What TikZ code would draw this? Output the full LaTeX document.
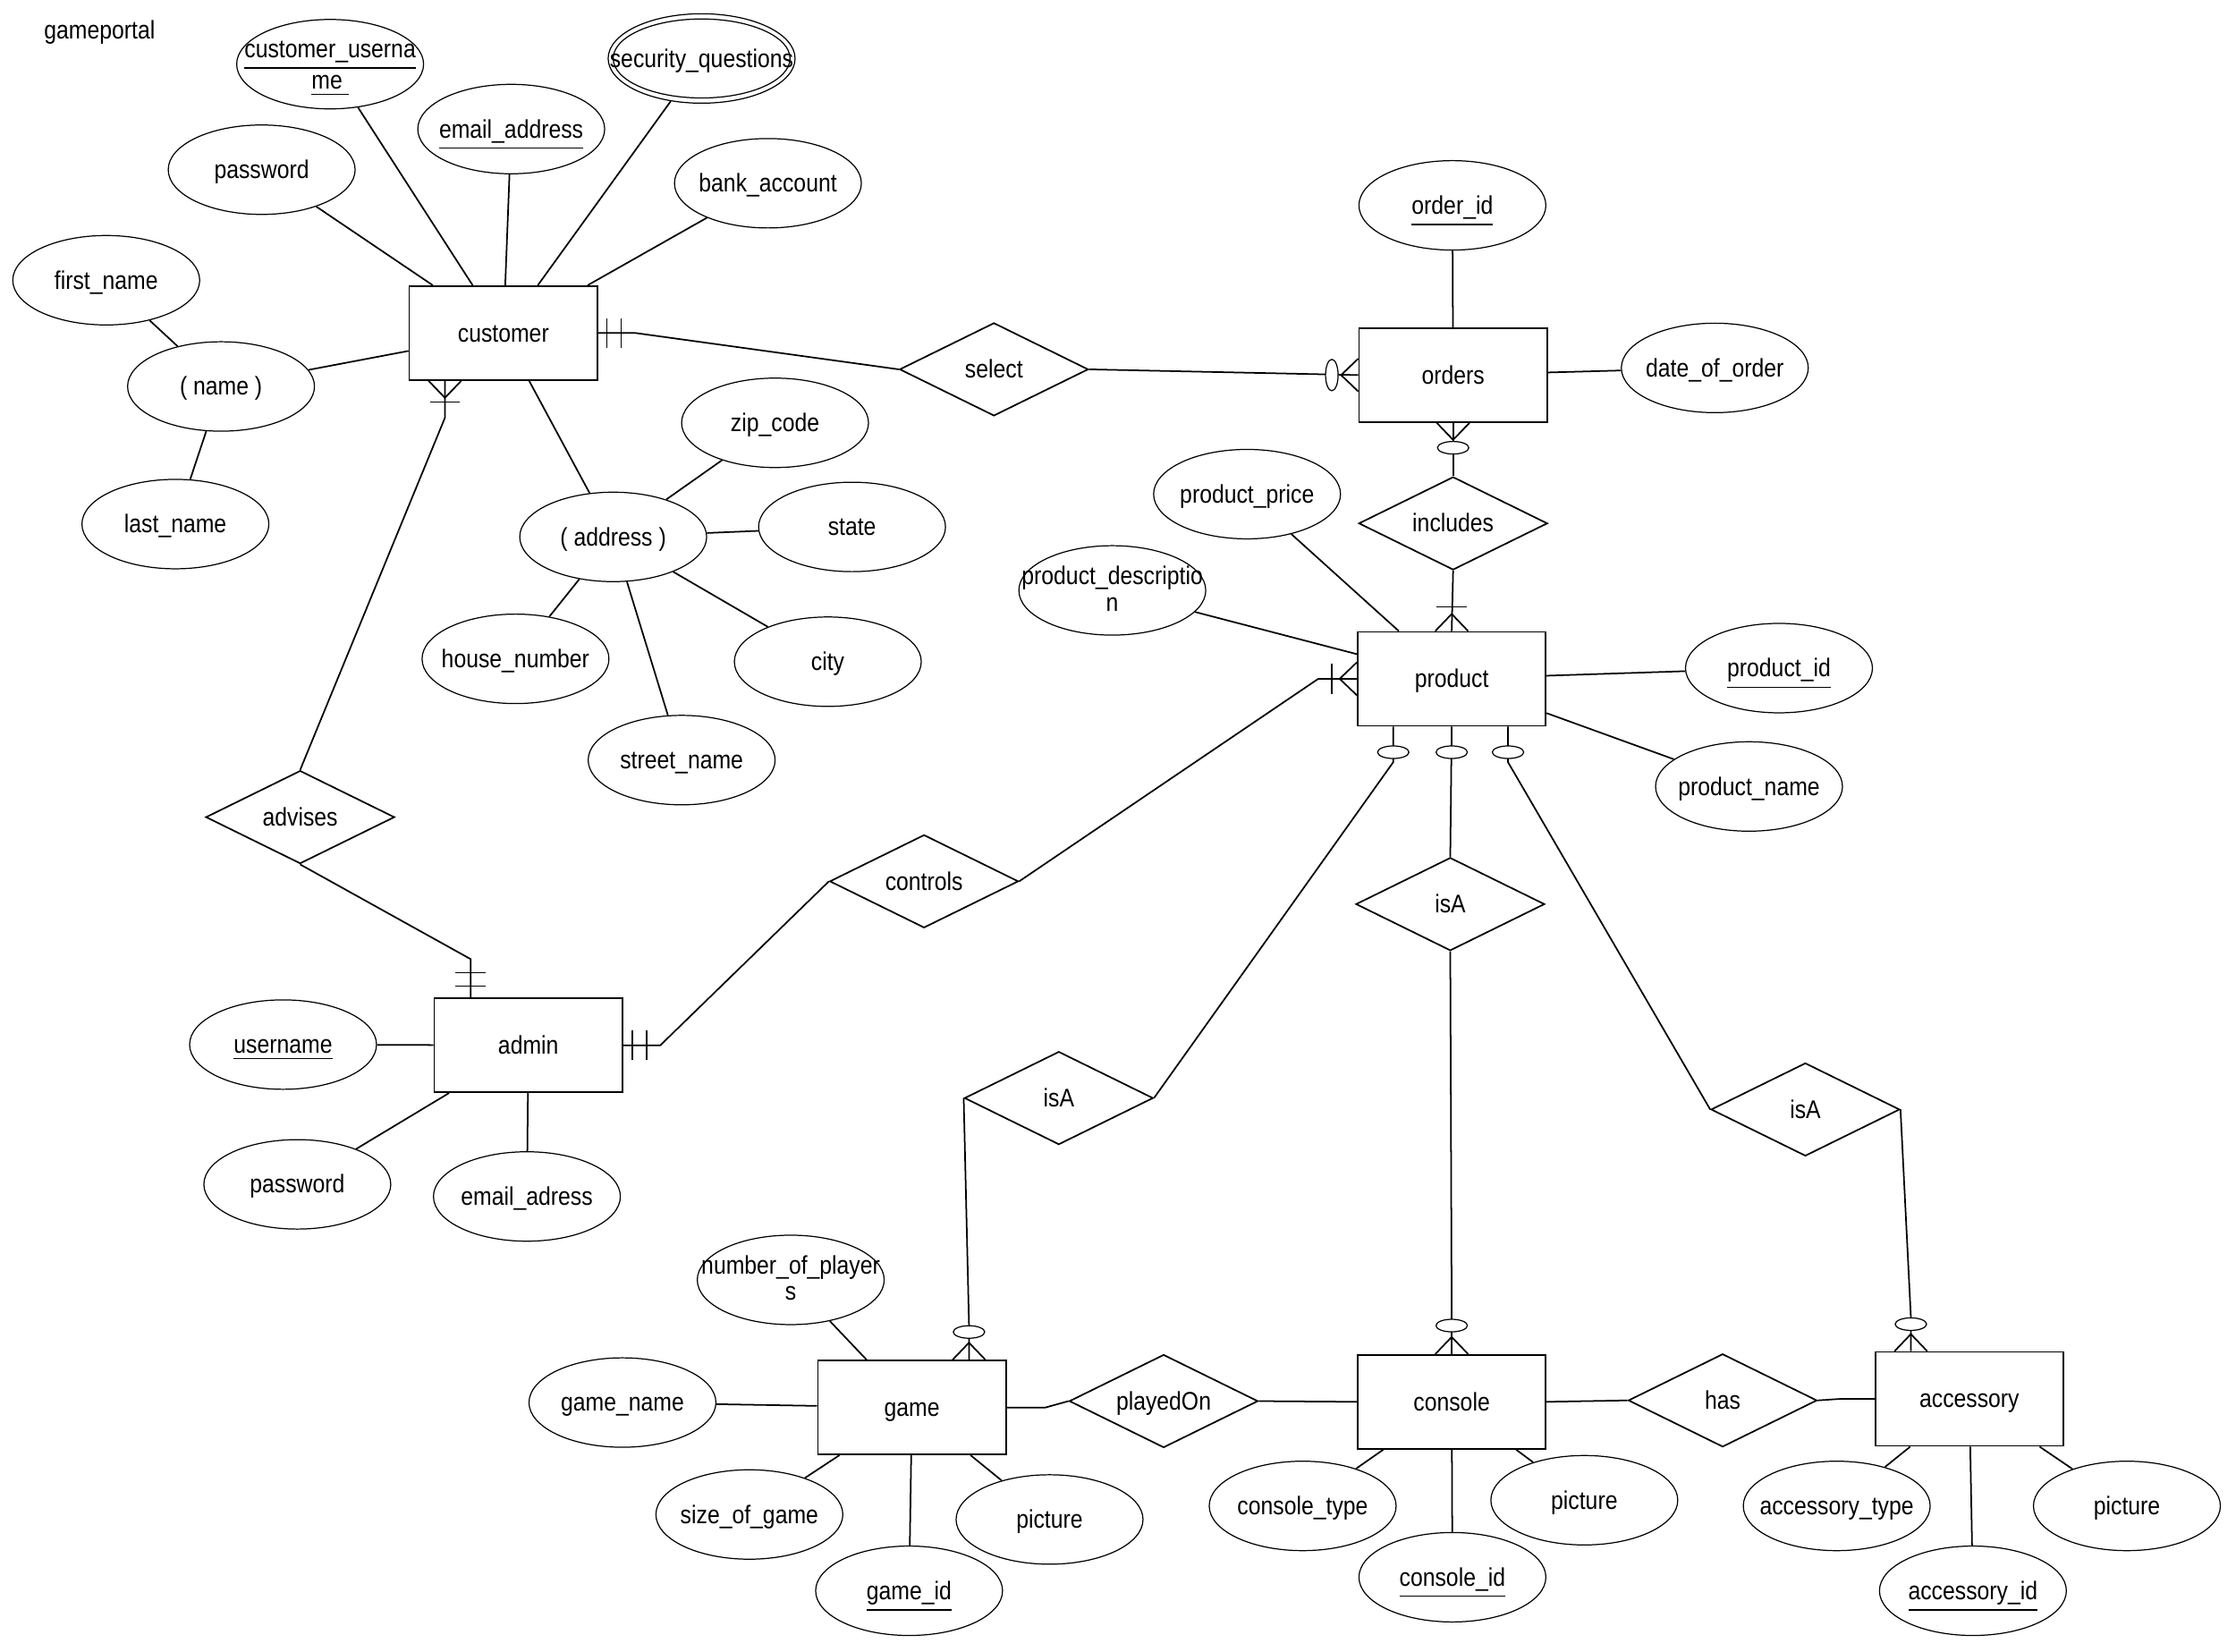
\documentclass[tikz,border=0pt]{standalone}
\usepackage{fontspec}
\usepackage{graphicx}
\setmainfont{Liberation Sans}
\usetikzlibrary{shapes.geometric,calc}
\newcommand{\T}[1]{\scalebox{1}[1.15]{#1}}
\newcommand{\mb}[1]{\makebox[0pt][c]{\smash{\raisebox{-2.8pt}{\T{#1}}}}}
\newcommand{\tl}[2]{\makebox[0pt][c]{\smash{\raisebox{1.96pt}{\begin{tabular}[t]{@{}c@{}}\T{#1}\\\T{#2}\end{tabular}}}}}
\newcommand{\crow}[2]{\begin{scope}[shift={(#1)},rotate=#2,x=0.015944cm,y=0.015944cm]\draw[conn] (0,11.5) -- (12,0) -- (0,-11.5);\end{scope}}
\newcommand{\tbar}[3]{\begin{scope}[shift={(#1)},rotate=#2,x=0.015944cm,y=0.015944cm]\draw[conn] (#3,10.5) -- (#3,-10.5);\end{scope}}
\newcommand{\toval}[3]{\begin{scope}[shift={(#1)},rotate=#2,x=0.015944cm,y=0.015944cm]\draw[line width=0.35pt,fill=white] (#3,0) ellipse [x radius=4.4, y radius=11];\end{scope}}
\tikzset{
 ent/.style={draw, line width=0.5pt, rectangle, minimum width=2.105cm, minimum height=1.05cm, inner sep=0pt, fill=white},
 rel/.style={draw, line width=0.5pt, diamond, minimum width=2.11cm, minimum height=1.04cm, inner sep=0pt, fill=white},
 attr/.style={draw, line width=0.35pt, ellipse, minimum width=2.09cm, minimum height=1.0cm, inner sep=0pt},
 conn/.style={line width=0.5pt},
}
\begin{document}
\begin{tikzpicture}[x=0.015944cm, y=-0.015944cm, font=\fontsize{7.05}{8.5}\selectfont]
\useasboundingbox (0,0) rectangle (1568,1158);
\node[inner sep=0pt] (title) at (31,21) {\makebox[0pt][l]{\smash{\raisebox{-2.8pt}{\T{gameportal}}}}};
% entities
\node[ent] (cust) at (353,233.5) {\mb{customer}};
\node[ent] (ord) at (1019,263) {\mb{orders}};
\node[ent] (prod) at (1018,476) {\mb{product}};
\node[ent] (adm) at (370.5,733) {\mb{admin}};
\node[ent] (game) at (639.5,987) {\mb{game}};
\node[ent] (cons) at (1018,983) {\mb{console}};
\node[ent] (acc) at (1381,981) {\mb{accessory}};
% relationships
\node[rel] (sel) at (697,259) {\mb{select}};
\node[rel] (inc) at (1019,367) {\mb{includes}};
\node[rel] (adv) at (210.5,573) {\mb{advises}};
\node[rel] (ctl) at (648,618) {\mb{controls}};
\node[rel] (isam) at (1017,634) {\mb{isA}};
\node[rel] (isal) at (742.5,770) {\mb{isA}};
\node[rel] (isar) at (1266,778) {\mb{isA}};
\node[rel] (play) at (816,982.5) {\mb{playedOn}};
\node[rel] (has) at (1208,982) {\mb{has}};
% attributes
\node[attr] (cu) at (231.5,45) {\tl{\underline{customer\_userna}}{\underline{me\ }}};
\node[attr] (email) at (358.5,90.5) {\mb{\underline{email\_address}}};
\node[attr] (sq) at (492,41) {\mb{security\_questions}};
\draw[line width=0.35pt] (sq.center) ellipse [x radius=62, y radius=27.7];
\node[attr] (pw) at (183.5,119) {\mb{password}};
\node[attr] (bank) at (538.5,128.5) {\mb{bank\_account}};
\node[attr] (fn) at (74.5,196.5) {\mb{first\_name}};
\node[attr] (name) at (155,271) {\mb{( name )}};
\node[attr] (ln) at (123,367.5) {\mb{last\_name}};
\node[attr] (zip) at (543.5,296.5) {\mb{zip\_code}};
\node[attr] (addr) at (430,376.5) {\mb{( address )}};
\node[attr] (state) at (597.5,369.5) {\mb{state}};
\node[attr] (hn) at (361.5,462) {\mb{house\_number}};
\node[attr] (city) at (580.5,464) {\mb{city}};
\node[attr] (sn) at (478,533) {\mb{street\_name}};
\node[attr] (oid) at (1018.5,144) {\mb{\underline{order\_id}}};
\node[attr] (doo) at (1202.5,258) {\mb{date\_of\_order}};
\node[attr] (pp) at (874.5,346.5) {\mb{product\_price}};
\node[attr] (pd) at (780,414) {\tl{product\_descriptio}{n}};
\node[attr] (pid) at (1247.5,468.5) {\mb{\underline{product\_id}}};
\node[attr] (pn) at (1226.5,551.5) {\mb{product\_name}};
\node[attr] (un) at (198.5,732.5) {\mb{\underline{username}}};
\node[attr] (apw) at (208.5,830.5) {\mb{password}};
\node[attr] (aem) at (369.5,839) {\mb{email\_adress}};
\node[attr] (nop) at (554.5,897.5) {\tl{number\_of\_player}{s}};
\node[attr] (gn) at (436.5,983.5) {\mb{game\_name}};
\node[attr] (sog) at (525.5,1062) {\mb{size\_of\_game}};
\node[attr] (gid) at (637.5,1115.5) {\mb{\underline{game\_id}}};
\node[attr] (gpic) at (736,1065.5) {\mb{picture}};
\node[attr] (ct) at (913.5,1056) {\mb{console\_type}};
\node[attr] (cid) at (1018.5,1106) {\mb{\underline{console\_id}}};
\node[attr] (cpic) at (1111,1052) {\mb{picture}};
\node[attr] (at) at (1288,1056) {\mb{accessory\_type}};
\node[attr] (aid) at (1383.5,1115.5) {\mb{\underline{accessory\_id}}};
\node[attr] (apic) at (1491.5,1056) {\mb{picture}};
% attribute connectors
\foreach \a/\b in {cu/cust, email/cust, sq/cust, pw/cust, bank/cust, name/cust, fn/name, ln/name, addr/cust,
  zip/addr, state/addr, hn/addr, city/addr, sn/addr, oid/ord, doo/ord, pp/prod, pd/prod, pid/prod, pn/prod,
  un/adm, apw/adm, aem/adm, nop/game, gn/game, sog/game, gid/game, gpic/game, ct/cons, cid/cons, cpic/cons,
  at/acc, aid/acc, apic/acc}
  \draw[conn] (\a) -- (\b);
% customer - select - orders
\coordinate (k1) at ($(cust.east)+(26,0)$);
\draw[conn] (cust.east) -- (k1) -- (sel.west);
\tbar{cust.east}{0}{6}\tbar{cust.east}{0}{16}
\draw[conn] (sel.east) -- (ord.west);
\crow{ord.west}{180}\toval{ord.west}{180}{18.5}
% customer - advises - admin
\coordinate (cA) at ($(cust.south)+(-41,0)$);
\coordinate (cAk) at ($(cA)+(0,26)$);
\draw[conn] (cA) -- (cAk) -- (adv.north);
\crow{cA}{270}\tbar{cA}{270}{15}
\coordinate (aT) at ($(adm.north)+(-40.5,0)$);
\coordinate (aTk) at ($(aT)+(0,-27)$);
\draw[conn] (adv.south) -- (aTk) -- (aT);
\tbar{aT}{90}{8}\tbar{aT}{90}{17.5}
% admin - controls - product
\coordinate (cK) at ($(adm.east)+(26,0)$);
\draw[conn] (ctl.west) -- (cK) -- (adm.east);
\tbar{adm.east}{0}{6.5}\tbar{adm.east}{0}{16.5}
\coordinate (pK) at ($(prod.west)+(-27,0)$);
\draw[conn] (ctl.east) -- (pK) -- (prod.west);
\crow{prod.west}{180}\tbar{prod.west}{180}{17.5}
% orders - includes - product
\draw[conn] (ord.south) -- (inc.north);
\crow{ord.south}{270}\toval{ord.south}{270}{17.5}
\draw[conn] (inc.south) -- (prod.north);
\crow{prod.north}{90}\tbar{prod.north}{90}{17}
% product - isA
\coordinate (pL) at ($(prod.south)+(-41,0)$);
\coordinate (pLk) at ($(pL)+(0,25)$);
\draw[conn] (pL) -- (pLk) -- (isal.east);
\toval{pL}{270}{18}
\draw[conn] (prod.south) -- (isam.north);
\toval{prod.south}{270}{18}
\coordinate (pR) at ($(prod.south)+(39.5,0)$);
\coordinate (pRk) at ($(pR)+(0,25)$);
\draw[conn] (pR) -- (pRk) -- (isar.west);
\toval{pR}{270}{18}
% isA - subtypes
\coordinate (gT) at ($(game.north)+(40,0)$);
\coordinate (gTk) at ($(gT)+(0,-25)$);
\draw[conn] (isal.west) -- (gTk) -- (gT);
\crow{gT}{90}\toval{gT}{90}{19.5}
\coordinate (cTk) at ($(cons.north)+(0,-25)$);
\draw[conn] (isam.south) -- (cTk) -- (cons.north);
\crow{cons.north}{90}\toval{cons.north}{90}{20}
\coordinate (aA) at ($(acc.north)+(-41,0)$);
\coordinate (aAk) at ($(aA)+(0,-24)$);
\draw[conn] (isar.east) -- (aAk) -- (aA);
\crow{aA}{90}\toval{aA}{90}{19}
% game - playedOn - console - has - accessory
\coordinate (gK) at ($(game.east)+(27,0)$);
\draw[conn] (game.east) -- (gK) -- (play.west);
\draw[conn] (play.east) -- (cons.west);
\draw[conn] (cons.east) -- (has.west);
\coordinate (hK) at ($(has.east)+(15,-1)$);
\draw[conn] (has.east) -- (hK) -- (acc.west);
\end{tikzpicture}
\end{document}
